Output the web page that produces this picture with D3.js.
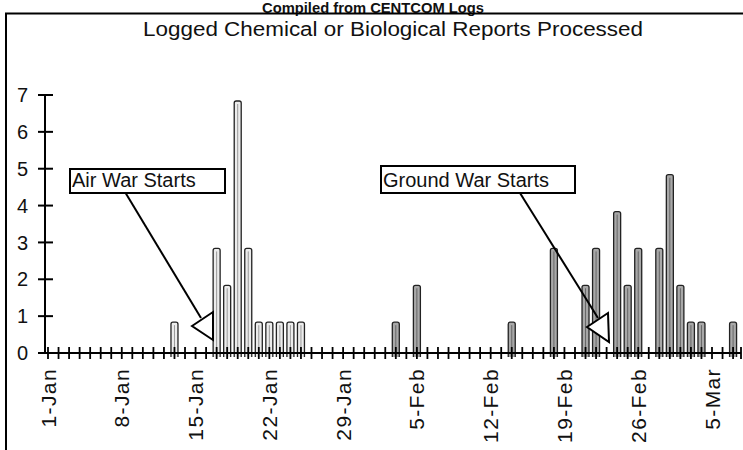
<!DOCTYPE html>
<html>
<head>
<meta charset="utf-8">
<script src="https://cdn.jsdelivr.net/npm/d3@7"></script>
<style>
  html, body { margin: 0; padding: 0; background: #fff; }
  svg { display: block; }
  text { font-family: "Liberation Sans", Arial, Helvetica, sans-serif; fill: #111; }
</style>
</head>
<body>
<svg id="chart" width="743" height="450"></svg>
<script>
// ---- data ----
const title = "Compiled from CENTCOM Logs";
const subtitle = "Logged Chemical or Biological Reports Processed";
const barDates = ["13-Jan","17-Jan","18-Jan","19-Jan","20-Jan","21-Jan","22-Jan","23-Jan","24-Jan","25-Jan",
                  "3-Feb","5-Feb","14-Feb","18-Feb","21-Feb","22-Feb","24-Feb","25-Feb","26-Feb","28-Feb",
                  "1-Mar","2-Mar","3-Mar","4-Mar","7-Mar"];
const barValues = [1,3,2,7,3,1,1,1,1,1,
                   1,2,1,3,2,3,4,2,3,3,
                   5,2,1,1,1];
const xTickLabels = ["1-Jan","8-Jan","15-Jan","22-Jan","29-Jan","5-Feb","12-Feb","19-Feb","26-Feb","5-Mar"];
const yTickValues = [0,1,2,3,4,5,6,7];
const annotations = [
  { label: "Air War Starts", date: "15-Jan" },
  { label: "Ground War Starts", date: "23-Feb" }
];

// ---- helpers ----
const months = { Jan: 0, Feb: 1, Mar: 2 };
function parseDay(s) {
  const [d, m] = s.split("-");
  return new Date(Date.UTC(1991, months[m], +d));
}

const svg = d3.select("#chart");

const x = d3.scaleUtc()
  .domain([parseDay("1-Jan"), parseDay("5-Mar")])
  .range([48, 712]);
const y = d3.scaleLinear().domain([0, 7]).range([353, 95]);
const axisX0 = 45, axisX1 = 741;
const febStart = parseDay("1-Feb");

// title
svg.append("text")
  .attr("x", 373).attr("y", 12.5)
  .attr("text-anchor", "middle")
  .attr("textLength", 222).attr("lengthAdjust", "spacingAndGlyphs")
  .style("font-size", "15.5px").style("font-weight", "bold")
  .text(title);

// frame
svg.append("path")
  .attr("d", `M6,450 V13.5 H743`)
  .attr("fill", "none").attr("stroke", "#000").attr("stroke-width", 2);

svg.append("text")
  .attr("x", 393).attr("y", 36)
  .attr("text-anchor", "middle")
  .attr("textLength", 500).attr("lengthAdjust", "spacingAndGlyphs")
  .style("font-size", "20px")
  .text(subtitle);

// bars
const bars = barDates.map((d, i) => ({ date: parseDay(d), v: barValues[i] }));
const bw = 7;
svg.append("g").selectAll("path")
  .data(bars)
  .join("path")
  .attr("d", d => {
    const cx = x(d.date), top = y(d.v) + 6, bot = y(0) + 4, r = 2;
    const l = cx - bw / 2, rr = cx + bw / 2;
    return `M${l},${bot} V${top + r} Q${l},${top} ${l + r},${top} H${rr - r} Q${rr},${top} ${rr},${top + r} V${bot}`;
  })
  .attr("fill", d => d.date < febStart ? "#ececec" : "#a8a8a8")
  .attr("stroke", "#222")
  .attr("stroke-width", 1.3);
// inner hatching line
svg.append("g").selectAll("line")
  .data(bars)
  .join("line")
  .attr("x1", d => x(d.date)).attr("x2", d => x(d.date))
  .attr("y1", d => y(d.v) + 9).attr("y2", y(0))
  .attr("stroke", d => d.date < febStart ? "#999" : "#666").attr("stroke-width", 1);

// y axis
const ya = svg.append("g");
ya.append("line").attr("x1", axisX0).attr("x2", axisX0).attr("y1", y(7)).attr("y2", y(0))
  .attr("stroke", "#000").attr("stroke-width", 2);
ya.selectAll("line.t").data(yTickValues).join("line").attr("class", "t")
  .attr("x1", axisX0 - 7).attr("x2", axisX0 + 8)
  .attr("y1", d => y(d)).attr("y2", d => y(d))
  .attr("stroke", "#000").attr("stroke-width", 2);
ya.selectAll("text").data(yTickValues).join("text")
  .attr("x", 28).attr("y", d => y(d)).attr("dy", "0.36em")
  .attr("text-anchor", "end")
  .style("font-size", "20px")
  .text(d => d);

// x axis
const xa = svg.append("g");
xa.append("line").attr("x1", axisX0).attr("x2", axisX1).attr("y1", y(0)).attr("y2", y(0))
  .attr("stroke", "#000").attr("stroke-width", 2);
const days = d3.utcDay.range(parseDay("1-Jan"), parseDay("8-Mar"));
xa.selectAll("line.t").data(days).join("line").attr("class", "t")
  .attr("x1", d => x(d)).attr("x2", d => x(d))
  .attr("y1", y(0) - 6).attr("y2", y(0) + 6)
  .attr("stroke", "#000").attr("stroke-width", 1.8);
xa.append("line").attr("x1", axisX1).attr("x2", axisX1).attr("y1", y(0) - 6).attr("y2", y(0) + 6)
  .attr("stroke", "#000").attr("stroke-width", 1.8);
xa.selectAll("text").data(xTickLabels).join("text")
  .attr("transform", d => `translate(${x(parseDay(d))},368) rotate(-90)`)
  .attr("dy", "0.36em")
  .attr("text-anchor", "end")
  .style("font-size", "21px").style("letter-spacing", "1.4px")
  .text(d => d);

// annotations
const boxes = [
  { x: 70, y: 169, w: 155, h: 24, lx: 125, ly: 192, ex: 201, ey: 318, tri: [[192, 326], [213, 312], [213, 340]] },
  { x: 381, y: 166, w: 194, h: 27, lx: 520, ly: 193, ex: 598, ey: 318, tri: [[587, 327], [608, 313], [609, 342]] }
];
annotations.forEach((a, i) => {
  const b = boxes[i];
  const g = svg.append("g");
  g.append("line").attr("x1", b.lx).attr("y1", b.ly).attr("x2", b.ex).attr("y2", b.ey)
    .attr("stroke", "#000").attr("stroke-width", 2);
  g.append("polygon").attr("points", b.tri.map(p => p.join(",")).join(" "))
    .attr("fill", "#fff").attr("stroke", "#000").attr("stroke-width", 2);
  g.append("rect").attr("x", b.x).attr("y", b.y).attr("width", b.w).attr("height", b.h)
    .attr("fill", "#fff").attr("stroke", "#000").attr("stroke-width", 2);
  g.append("text").attr("x", b.x + 2).attr("y", b.y + b.h - 6)
    .style("font-size", "20px")
    .text(a.label);
});
</script>
</body>
</html>
